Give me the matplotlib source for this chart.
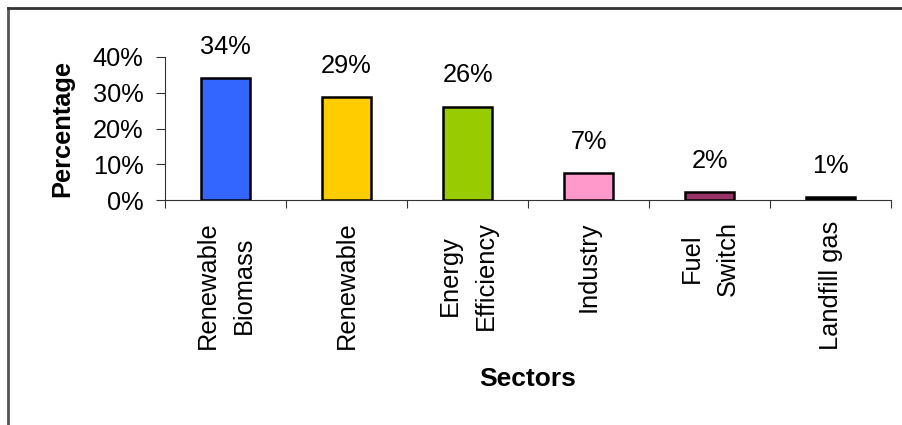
import matplotlib.pyplot as plt
from matplotlib.lines import Line2D

# data
sectors = ["Renewable\nBiomass", "Renewable", "Energy\nEfficiency",
           "Industry", "Fuel\nSwitch", "Landfill gas"]
shares = [34.1, 28.8, 26.1, 7.6, 2.2, 0.9]
share_labels = ["34%", "29%", "26%", "7%", "2%", "1%"]
bar_colors = ["#3366FF", "#FFCC00", "#99CC00", "#FF99CC", "#993366", "#000000"]
y_ticks = [0, 10, 20, 30, 40]

plt.rcParams['font.family'] = ['Liberation Sans', 'DejaVu Sans']
FS = 18.3

fig = plt.figure(figsize=(9.02, 4.25), dpi=100)
ax = fig.add_axes([0.183, 0.529, 0.805, 0.337])

x = list(range(len(sectors)))
ax.bar(x, shares, width=0.41, color=bar_colors, edgecolor='black', linewidth=1.8)

for i in x:
    ax.annotate(share_labels[i], xy=(i, shares[i]), xytext=(0, 14),
                textcoords='offset points', ha='center', va='bottom', fontsize=FS)

ax.set_xlim(-0.5, len(sectors) - 0.5)
ax.set_ylim(0, 40)
ax.set_yticks(y_ticks)
ax.set_yticklabels([f"{t}%" for t in y_ticks], fontsize=FS)

# ticks between categories, labels centred under bars
ax.set_xticks([i - 0.5 for i in range(len(sectors) + 1)])
ax.set_xticklabels([])
ax.set_xticks(x, minor=True)
ax.set_xticklabels(sectors, minor=True, rotation=90, fontsize=FS,
                   va='top', ha='center', multialignment='center', linespacing=1.65)
ax.tick_params(axis='x', which='minor', length=0, pad=15)
ax.tick_params(axis='x', which='major', length=5.5, color='#333333')
ax.tick_params(axis='y', length=6.5, color='#333333', pad=9)

for s in ['top', 'right']:
    ax.spines[s].set_visible(False)
for s in ['left', 'bottom']:
    ax.spines[s].set_color('#333333')

ax.set_ylabel('Percentage', fontsize=FS, fontweight='bold', labelpad=13)
ax.set_xlabel('Sectors', fontsize=19, fontweight='bold', labelpad=12)

# outer chart frame (left and top edges visible)
fig.add_artist(Line2D([8 / 902, 8 / 902], [0, 1 - 8 / 425], transform=fig.transFigure,
                      color='#555555', linewidth=2))
fig.add_artist(Line2D([8 / 902, 1], [1 - 8 / 425, 1 - 8 / 425], transform=fig.transFigure,
                      color='#333333', linewidth=2))

fig.savefig('out.png', dpi=100)
